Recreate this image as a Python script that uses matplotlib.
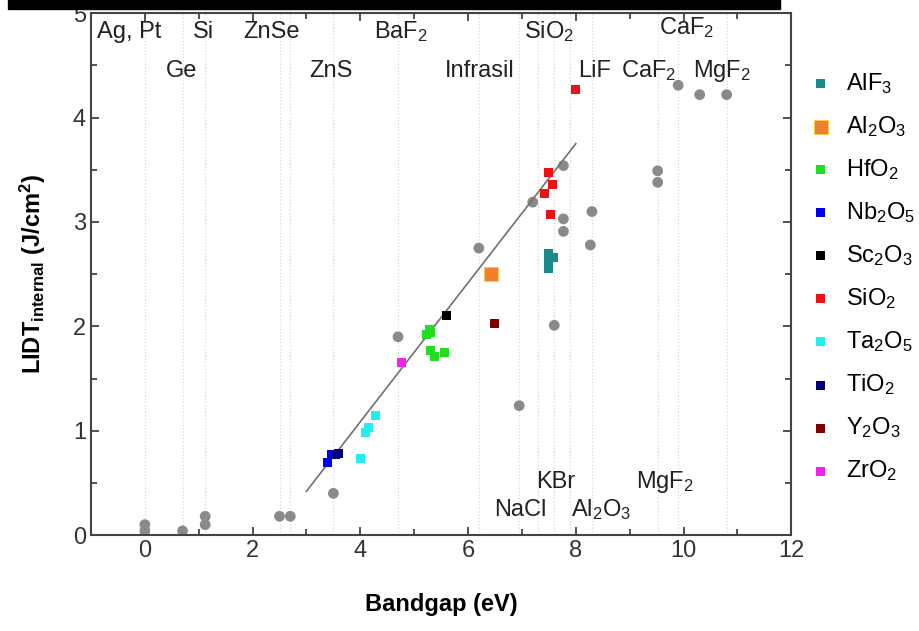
import matplotlib
matplotlib.use('Agg')
import matplotlib.pyplot as plt
from matplotlib.patches import Rectangle

plt.rcParams['font.family'] = ['Liberation Sans', 'DejaVu Sans']
plt.rcParams['mathtext.fontset'] = 'custom'
plt.rcParams['mathtext.rm'] = 'Liberation Sans'
plt.rcParams['mathtext.it'] = 'Liberation Sans'
plt.rcParams['mathtext.bf'] = 'Liberation Sans:bold'

# bulk materials (grey circles)
bulk_x = [0.0, 0.0, 0.7, 1.12, 1.12, 2.5, 2.7, 3.5, 4.7, 6.2, 6.95, 7.2, 7.6,
          7.77, 7.77, 7.77, 8.3, 8.27, 9.52, 9.52, 9.9, 10.3, 10.8]
bulk_y = [0.10, 0.04, 0.04, 0.18, 0.10, 0.18, 0.18, 0.40, 1.90, 2.75, 1.24, 3.19, 2.01,
          3.54, 3.03, 2.91, 3.10, 2.78, 3.49, 3.38, 4.31, 4.22, 4.22]

# vertical guide lines at bulk band gaps
guide_x = [0.0, 0.7, 1.12, 2.5, 2.7, 3.5, 4.7, 6.2, 6.95, 7.3, 7.6, 7.9, 8.3, 9.52, 9.9, 10.8]

# thin films (coloured squares)
films = {
    'AlF$_3$':      ([7.5, 7.58, 7.5, 7.5], [2.70, 2.66, 2.62, 2.55]),
    'Al$_2$O$_3$':  ([6.43], [2.50]),
    'HfO$_2$':      ([5.22, 5.28, 5.3, 5.31, 5.37, 5.56], [1.92, 1.97, 1.94, 1.77, 1.71, 1.75]),
    'Nb$_2$O$_5$':  ([3.4, 3.47], [0.70, 0.77]),
    'Sc$_2$O$_3$':  ([5.6], [2.10]),
    'SiO$_2$':      ([8.0, 7.5, 7.56, 7.42, 7.53], [4.27, 3.47, 3.36, 3.27, 3.07]),
    'Ta$_2$O$_5$':  ([4.01, 4.09, 4.15, 4.28], [0.73, 0.98, 1.03, 1.15]),
    'TiO$_2$':      ([3.53, 3.6], [0.77, 0.78]),
    'Y$_2$O$_3$':   ([6.5], [2.03]),
    'ZrO$_2$':      ([4.76], [1.65]),
}
colors = ['#1b8a8a', '#f08030', '#22dd22', '#0000ee', '#000000',
          '#ee1111', '#22eeee', '#000080', '#800000', '#ee22ee']

fit_x = [3.0, 8.0]
fit_y = [0.42, 3.75]

# material labels: text, x, y
labels = [
    ('Ag, Pt', -0.88, 4.82, 'left'), ('Si', 1.08, 4.82, 'center'),
    ('ZnSe', 2.36, 4.82, 'center'), ('BaF$_2$', 4.75, 4.82, 'center'),
    ('SiO$_2$', 7.5, 4.82, 'center'), ('CaF$_2$', 10.05, 4.86, 'center'),
    ('Ge', 0.69, 4.45, 'center'), ('ZnS', 3.46, 4.45, 'center'),
    ('Infrasil', 6.21, 4.45, 'center'), ('LiF', 8.35, 4.45, 'center'),
    ('CaF$_2$', 9.35, 4.45, 'center'), ('MgF$_2$', 10.72, 4.45, 'center'),
    ('KBr', 7.62, 0.51, 'center'), ('MgF$_2$', 9.65, 0.51, 'center'),
    ('NaCl', 6.97, 0.24, 'center'), ('Al$_2$O$_3$', 8.47, 0.24, 'center'),
]

fig = plt.figure(figsize=(9.19, 6.31), dpi=100)
ax = fig.add_axes([0.099, 0.152, 0.762, 0.827])

for gx in guide_x:
    ax.axvline(gx, color='#d8d8d8', linestyle=':', linewidth=0.9, zorder=0)

ax.scatter(bulk_x, bulk_y, s=60, color='#8a8a8a', edgecolors='none', zorder=2)
ax.plot(fit_x, fit_y, color='#707070', linewidth=1.2, zorder=3)

for (name, (fx, fy)), c in zip(films.items(), colors):
    if name.startswith('Al$_2$'):
        ax.scatter(fx, fy, s=90, marker='s', color=c, edgecolors='#f6d040',
                   linewidths=0.6, label=name, zorder=4)
    else:
        ax.scatter(fx, fy, s=42, marker='s', color=c, edgecolors='none',
                   label=name, zorder=4)

for txt, tx, ty, ha in labels:
    ax.text(tx, ty, txt, fontsize=17, ha=ha, va='center', color='#222222', zorder=5)

ax.set_xlim(-1, 12)
ax.set_ylim(0, 5)
ax.set_xticks([0, 2, 4, 6, 8, 10, 12])
ax.set_xticks([-1, 1, 3, 5, 7, 9, 11], minor=True)
ax.set_yticks([0, 1, 2, 3, 4, 5])
ax.set_yticks([0.5, 1.5, 2.5, 3.5, 4.5], minor=True)
ax.tick_params(which='both', direction='in', top=True, right=True, labelsize=17,
               colors='#333333', width=1.2)
ax.tick_params(which='major', length=6)
ax.tick_params(which='minor', length=4)
for sp in ax.spines.values():
    sp.set_linewidth(1.5)
    sp.set_color('#444444')

ax.set_xlabel('Bandgap (eV)', fontsize=17, fontweight='bold', labelpad=22)
ax.set_ylabel(r'$\mathbf{LIDT_{internal}}$ (J/cm$^\mathbf{2}$)', fontsize=17,
              fontweight='bold', labelpad=18)

fig.legend(loc='upper left', bbox_to_anchor=(0.87, 0.903), frameon=False,
           fontsize=17, handletextpad=0.55, labelspacing=0.77, borderaxespad=0,
           handlelength=1.0, scatterpoints=1)

# dark strip along the top edge of the original scan
fig.patches.append(Rectangle((0.009, 0.985), 0.84, 0.015, transform=fig.transFigure,
                             color='black', zorder=10))

fig.savefig('out.png', dpi=100)
